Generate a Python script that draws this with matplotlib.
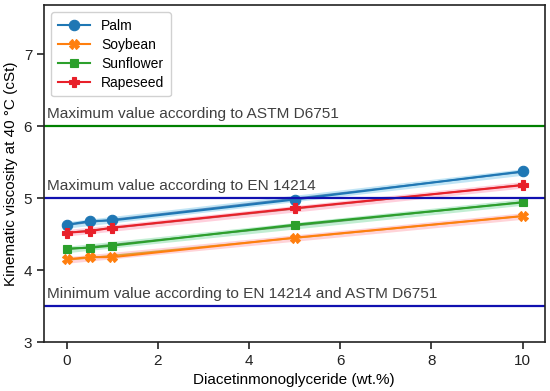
import numpy as np
import matplotlib.pyplot as plt

# data
dmg = [0, 0.5, 1, 5, 10]
palm = [4.63, 4.68, 4.69, 4.98, 5.37]
soybean = [4.15, 4.18, 4.18, 4.45, 4.75]
sunflower = [4.30, 4.31, 4.34, 4.63, 4.94]
rapeseed = [4.52, 4.54, 4.59, 4.86, 5.18]

names = ["Palm", "Soybean", "Sunflower", "Rapeseed"]
series = [palm, soybean, sunflower, rapeseed]
markers = ["o", "X", "s", "P"]
msizes = [7.5, 7, 6, 7.5]
colors = ["#1f77b4", "#ff7f0e", "#2ca02c", "#e8202a"]
fit_colors = ["#2060a0", "#c8900a", "#2a6e2a", "#9a3a22"]
band_colors = ["#8fd0ee", "#ffb0b8", "#90e0b0", "#ffa8c0"]

limits = [6.0, 5.0, 3.5]
limit_labels = [
    "Maximum value according to ASTM D6751",
    "Maximum value according to EN 14214",
    "Minimum value according to EN 14214 and ASTM D6751",
]
limit_colors = ["green", "#1010b0", "#1010b0"]

plt.rcParams["font.family"] = ["Liberation Sans", "DejaVu Sans"]

fig, ax = plt.subplots(figsize=(5.5, 3.91), dpi=100)
fig.subplots_adjust(left=0.08, right=0.99, top=0.987, bottom=0.125)

x = np.array(dmg)
xs = np.linspace(0, 10, 50)
for name, y, m, ms, c, fc, bc in zip(names, series, markers, msizes, colors,
                                      fit_colors, band_colors):
    k, b = np.polyfit(x, np.array(y), 1)
    fit = k * xs + b
    ax.fill_between(xs, fit - 0.045, fit + 0.045, color=bc, alpha=0.55, lw=0)
    ax.plot(xs, fit, color=fc, lw=1.2, alpha=0.7)
    ax.plot(x, y, color=c, marker=m, markersize=ms, lw=1.5, label=name,
            markeredgecolor=c, markeredgewidth=0.8)

for val, lab, col in zip(limits, limit_labels, limit_colors):
    ax.axhline(val, color=col, lw=1.6)
    ax.text(-0.44, val + 0.07, lab, fontsize=11.1, color="#404040", va="bottom")

ax.set_xlim(-0.5, 10.48)
ax.set_ylim(3, 7.68)
ax.set_xticks([0, 2, 4, 6, 8, 10])
ax.set_yticks([3, 4, 5, 6, 7])
ax.tick_params(labelsize=11, length=5, width=1.2, colors="#222222")
for s in ax.spines.values():
    s.set_linewidth(1.2)
    s.set_color("#222222")
ax.set_xlabel("Diacetinmonoglyceride (wt.%)", fontsize=11)
ax.set_ylabel("Kinematic viscosity at 40 °C (cSt)", fontsize=11)
ax.legend(loc="upper left", fontsize=10, framealpha=0.9, edgecolor="#cccccc",
          handlelength=2.3, borderpad=0.5, labelspacing=0.35)

plt.savefig("out.png")
